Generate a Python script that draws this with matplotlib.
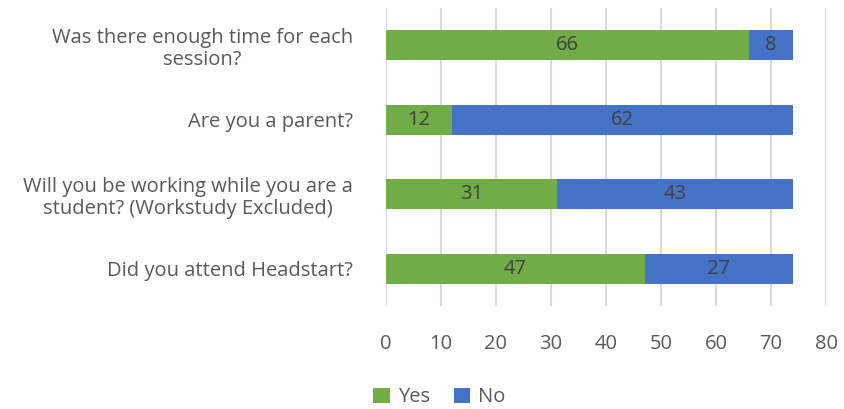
import matplotlib.pyplot as plt
import numpy as np

questions = [
    "Was there enough time for each\nsession?",
    "Are you a parent?",
    "Will you be working while you are a\nstudent? (Workstudy Excluded)",
    "Did you attend Headstart?",
]
yes = [66, 12, 31, 47]
no = [8, 62, 43, 27]

green = "#70AD47"
blue = "#4472C4"
txt = "#595959"

plt.rcParams["font.family"] = ["Open Sans", "DejaVu Sans"]

fig = plt.figure(figsize=(8.45, 4.09), dpi=100)
ax = fig.add_axes([386 / 845, 1 - 306 / 409, 440 / 845, 298 / 409])

y = np.arange(len(questions))[::-1]
ax.barh(y, yes, height=0.4, color=green, label="Yes", zorder=3)
ax.barh(y, no, left=yes, height=0.4, color=blue, label="No", zorder=3)

for yi, a, b in zip(y, yes, no):
    ax.text(a / 2, yi, str(a), ha="center", va="center", fontsize=14.5, color="#404040", zorder=4)
    ax.text(a + b / 2, yi, str(b), ha="center", va="center", fontsize=14.5, color="#404040", zorder=4)

ax.set_xlim(0, 80)
ax.set_ylim(-0.5, 3.5)
ax.set_xticks(range(0, 81, 10))
ax.set_yticks(y)
ax.set_yticklabels(questions, ha="right", multialignment="center", linespacing=1.15)
ax.tick_params(axis="both", length=0, labelsize=14.5, colors=txt)
ax.tick_params(axis="x", pad=20)
ax.tick_params(axis="y", pad=24)
ax.grid(axis="x", color="#D9D9D9", linewidth=1.5, zorder=0)
for s in ax.spines.values():
    s.set_visible(False)

fig.legend(loc="lower center", bbox_to_anchor=(0.52, -0.04), ncol=2, frameon=False,
           fontsize=14.5, labelcolor=txt, handlelength=0.8, handleheight=0.8,
           columnspacing=1.2, handletextpad=0.4)

fig.savefig("out.png", dpi=100)
